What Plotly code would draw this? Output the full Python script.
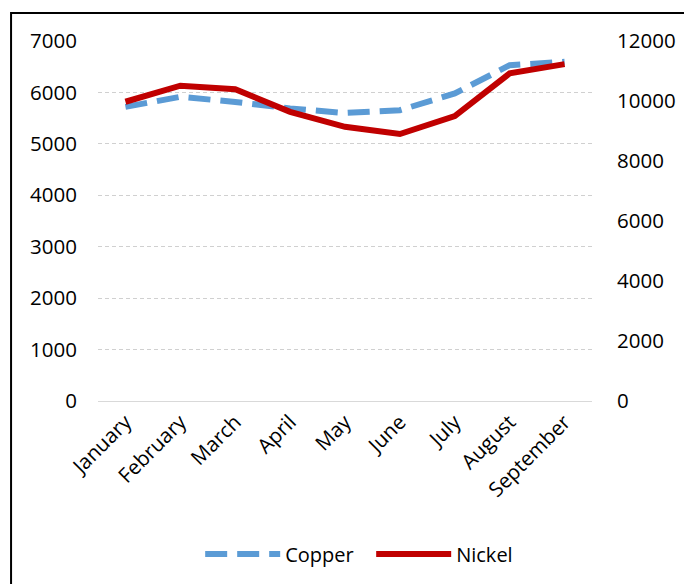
import plotly.graph_objects as go

months = ["January", "February", "March", "April", "May", "June", "July", "August", "September"]
copper = [5720, 5915, 5815, 5690, 5600, 5655, 5980, 6530, 6595]
nickel = [9975, 10510, 10390, 9640, 9140, 8900, 9500, 10920, 11230]

left_ticks = [0, 1000, 2000, 3000, 4000, 5000, 6000, 7000]
right_ticks = [0, 2000, 4000, 6000, 8000, 10000, 12000]

FONT = "Open Sans"
TS = 20.5

fig = go.Figure()
fig.add_trace(go.Scatter(
    x=months, y=copper, name="Copper", mode="lines",
    line=dict(color="#5B9BD5", width=6, dash="22px,10px"),
    yaxis="y",
))
fig.add_trace(go.Scatter(
    x=months, y=nickel, name="Nickel", mode="lines",
    line=dict(color="#C00000", width=6),
    yaxis="y2",
))

fig.update_layout(
    width=684, height=584,
    margin=dict(l=98, r=92, t=41, b=183, autoexpand=False),
    paper_bgcolor="white", plot_bgcolor="white",
    font=dict(family=FONT, size=TS, color="black"),
    showlegend=True,
    legend=dict(orientation="h", x=0.553, xanchor="center", y=-0.425, yanchor="middle",
                font=dict(family=FONT, size=20, color="black"), itemwidth=75,
                entrywidth=81, entrywidthmode="pixels",
                traceorder="normal", bgcolor="rgba(0,0,0,0)"),
    xaxis=dict(type="category", range=[-0.5, 8.5], tickangle=-45,
               showgrid=False, showline=True, linecolor="#d9d9d9", linewidth=1,
               ticks="", tickfont=dict(family=FONT, size=TS, color="black")),
    yaxis=dict(range=[0, 7000], tickvals=left_ticks, tickformat="d", showgrid=True,
               gridcolor="#d0d0d0", griddash="4px,3px", gridwidth=1, zeroline=False,
               ticks="", ticklabelstandoff=20, tickfont=dict(family=FONT, size=TS, color="black")),
    yaxis2=dict(range=[0, 12000], tickvals=right_ticks, tickformat="d", overlaying="y", side="right",
                showgrid=False, zeroline=False, ticks="", ticklabelstandoff=24,
                tickfont=dict(family=FONT, size=TS, color="black")),
    shapes=[dict(type="rect", xref="paper", yref="paper",
                 x0=-0.176, x1=1.5, y0=-1.0, y1=1.078,
                 line=dict(color="black", width=2), fillcolor="rgba(0,0,0,0)", layer="below")],
)

fig.write_html("out.html")
